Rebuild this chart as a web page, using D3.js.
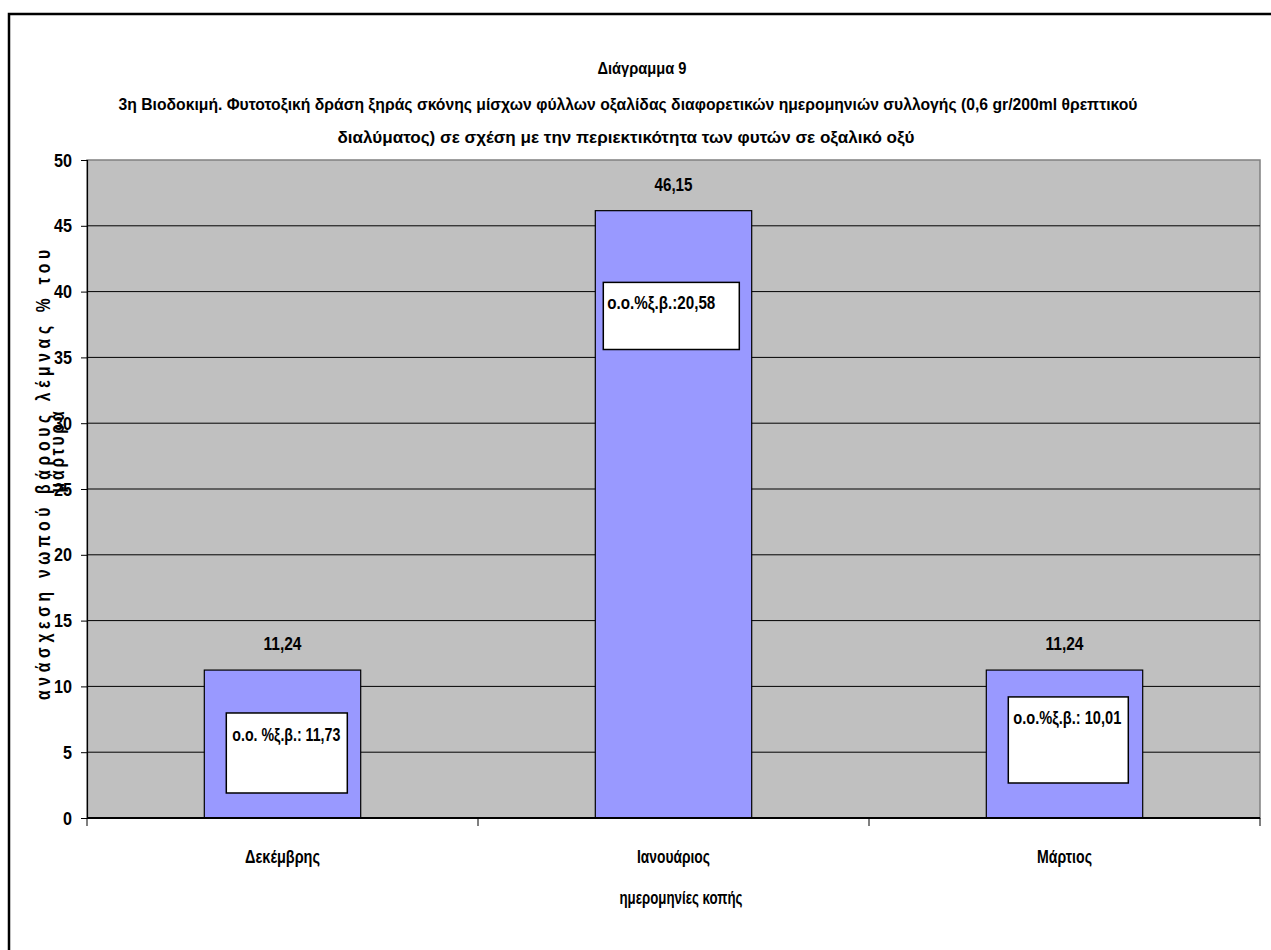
<!DOCTYPE html>
<html>
<head>
<meta charset="utf-8">
<script src="https://cdn.jsdelivr.net/npm/d3@7"></script>
<style>
  html, body { margin: 0; padding: 0; background: #fff; }
  svg text { font-family: "Liberation Sans", Arial, sans-serif; font-weight: bold; fill: #000; }
</style>
</head>
<body>
<svg id="chart" width="1271" height="950"></svg>
<script>
// Categories (cut dates) and the plotted values
const categories = ["Δεκέμβρης", "Ιανουάριος", "Μάρτιος"];
const inhibition = [11.24, 46.15, 11.24];
const valueLabels = ["11,24", "46,15", "11,24"];
// Oxalic acid content (% dry weight) shown in the text boxes
const oxalicLabels = ["ο.ο. %ξ.β.: 11,73", "ο.ο.%ξ.β.:20,58", "ο.ο.%ξ.β.: 10,01"];
const yTicks = [0, 5, 10, 15, 20, 25, 30, 35, 40, 45, 50];

const titleLines = [
  "Διάγραμμα 9",
  "3η Βιοδοκιμή. Φυτοτοξική δράση ξηράς σκόνης μίσχων φύλλων οξαλίδας διαφορετικών ημερομηνιών συλλογής (0,6 gr/200ml θρεπτικού",
  "διαλύματος) σε σχέση με την περιεκτικότητα των φυτών σε οξαλικό οξύ"
];
const xTitle = "ημερομηνίες κοπής";
const yTitle = ["ανάσχεση νωπού βάρους λέμνας % του", "μάρτυρα"];

// Text-box placement: offset from the bar's left edge, top/bottom in axis units
const boxLayout = [
  { dx: 22, w: 121, top: 7.98, bottom: 1.9, tx: 6, ty: 28 },
  { dx: 8,  w: 136, top: 40.7, bottom: 35.6, tx: 4, ty: 27 },
  { dx: 22, w: 120, top: 9.2,  bottom: 2.66, tx: 5, ty: 27 }
];

const svg = d3.select("#chart");
const plot = { left: 87, right: 1260, top: 160, bottom: 818 };

// Condensed look: squeeze each label to a fixed run length
function narrow(sel, len) {
  sel.attr("textLength", len).attr("lengthAdjust", "spacingAndGlyphs");
}

// Outer chart frame
svg.append("rect")
  .attr("x", 9).attr("y", 14)
  .attr("width", 1400).attr("height", 1100)
  .attr("fill", "none").attr("stroke", "#000").attr("stroke-width", 2.5);

const x = d3.scaleBand()
  .domain(categories)
  .range([plot.left, plot.right])
  .paddingInner(0.6)
  .paddingOuter(0.3);

const y = d3.scaleLinear().domain([0, 50]).range([plot.bottom, plot.top]);

// Plot area background and border
svg.append("rect")
  .attr("x", plot.left).attr("y", plot.top)
  .attr("width", plot.right - plot.left).attr("height", plot.bottom - plot.top)
  .attr("fill", "#C0C0C0").attr("stroke", "#808080").attr("stroke-width", 1.5);

// Horizontal gridlines
svg.append("g")
  .selectAll("line")
  .data(yTicks.filter(t => t > 0 && t < 50))
  .join("line")
  .attr("x1", plot.left).attr("x2", plot.right)
  .attr("y1", d => y(d)).attr("y2", d => y(d))
  .attr("stroke", "#000").attr("stroke-width", 1);

// Bars
svg.append("g")
  .selectAll("rect")
  .data(inhibition)
  .join("rect")
  .attr("x", (d, i) => x(categories[i]))
  .attr("y", d => y(d))
  .attr("width", x.bandwidth())
  .attr("height", d => y(0) - y(d))
  .attr("fill", "#9999FF")
  .attr("stroke", "#000").attr("stroke-width", 1.2);

// Value labels above bars
svg.append("g")
  .selectAll("text")
  .data(inhibition)
  .join("text")
  .attr("x", (d, i) => x(categories[i]) + x.bandwidth() / 2)
  .attr("y", d => y(d) - 20)
  .attr("text-anchor", "middle")
  .attr("font-size", 18)
  .text((d, i) => valueLabels[i])
  .call(narrow, 38);

// Oxalic acid text boxes
const boxes = svg.append("g")
  .selectAll("g")
  .data(boxLayout)
  .join("g")
  .attr("transform", (b, i) => `translate(${x(categories[i]) + b.dx},${y(b.top)})`);
boxes.append("rect")
  .attr("width", b => b.w)
  .attr("height", b => y(b.bottom) - y(b.top))
  .attr("fill", "#fff").attr("stroke", "#000").attr("stroke-width", 1.5);
boxes.append("text")
  .attr("x", b => b.tx).attr("y", b => b.ty)
  .attr("font-size", 18)
  .text((b, i) => oxalicLabels[i])
  .call(narrow, 108);

// Y axis
const yAxis = svg.append("g")
  .attr("transform", `translate(${plot.left},0)`)
  .call(d3.axisLeft(y).tickValues(yTicks).tickSize(6).tickPadding(9).tickFormat(d3.format("d")));
yAxis.select(".domain").attr("stroke", "#000").attr("stroke-width", 1.2);
yAxis.selectAll(".tick line").attr("stroke", "#000");
yAxis.selectAll(".tick text")
  .attr("font-size", 19)
  .style("font-family", '"Liberation Sans", Arial, sans-serif')
  .style("font-weight", "bold")
  .each(function (d) {
    d3.select(this).call(narrow, String(d).length * 9);
  });

// X axis with ticks on category boundaries
const xAxis = svg.append("g").attr("transform", `translate(0,${plot.bottom})`);
xAxis.append("line")
  .attr("x1", plot.left).attr("x2", plot.right)
  .attr("stroke", "#000").attr("stroke-width", 2);
const step = x.step();
const boundaries = d3.range(categories.length + 1).map(i => plot.left + i * step);
xAxis.selectAll("line.tk")
  .data(boundaries)
  .join("line").attr("class", "tk")
  .attr("x1", d => d).attr("x2", d => d)
  .attr("y1", 0).attr("y2", 8)
  .attr("stroke", "#000");
const xLabelLen = [75, 73, 55];
xAxis.selectAll("text")
  .data(categories)
  .join("text")
  .attr("x", d => x(d) + x.bandwidth() / 2)
  .attr("y", 45)
  .attr("text-anchor", "middle")
  .attr("font-size", 18)
  .text(d => d)
  .each(function (d, i) { d3.select(this).call(narrow, xLabelLen[i]); });

// Titles
const titlePos = [[642, 74], [628, 110], [626, 143]];
const titleLen = [89, 1019, 577];
svg.append("g")
  .selectAll("text")
  .data(titleLines)
  .join("text")
  .attr("x", (d, i) => titlePos[i][0])
  .attr("y", (d, i) => titlePos[i][1])
  .attr("text-anchor", "middle")
  .attr("font-size", 17)
  .text(d => d)
  .each(function (d, i) { d3.select(this).call(narrow, titleLen[i]); });

svg.append("text")
  .attr("x", 681).attr("y", 904)
  .attr("text-anchor", "middle")
  .attr("font-size", 18)
  .text(xTitle)
  .call(narrow, 123);

// Rotated, letter-spaced y-axis title (glyphs squeezed, gaps widened)
const squeeze = 0.78;
svg.append("text")
  .attr("transform", `translate(50,475) rotate(-90) scale(${squeeze},1)`)
  .attr("text-anchor", "middle")
  .attr("font-size", 20)
  .attr("textLength", 450 / squeeze)
  .attr("lengthAdjust", "spacing")
  .text(yTitle[0]);
svg.append("text")
  .attr("transform", `translate(64,452) rotate(-90) scale(${squeeze},1)`)
  .attr("text-anchor", "middle")
  .attr("font-size", 20)
  .attr("textLength", 81 / squeeze)
  .attr("lengthAdjust", "spacing")
  .text(yTitle[1]);
</script>
</body>
</html>
